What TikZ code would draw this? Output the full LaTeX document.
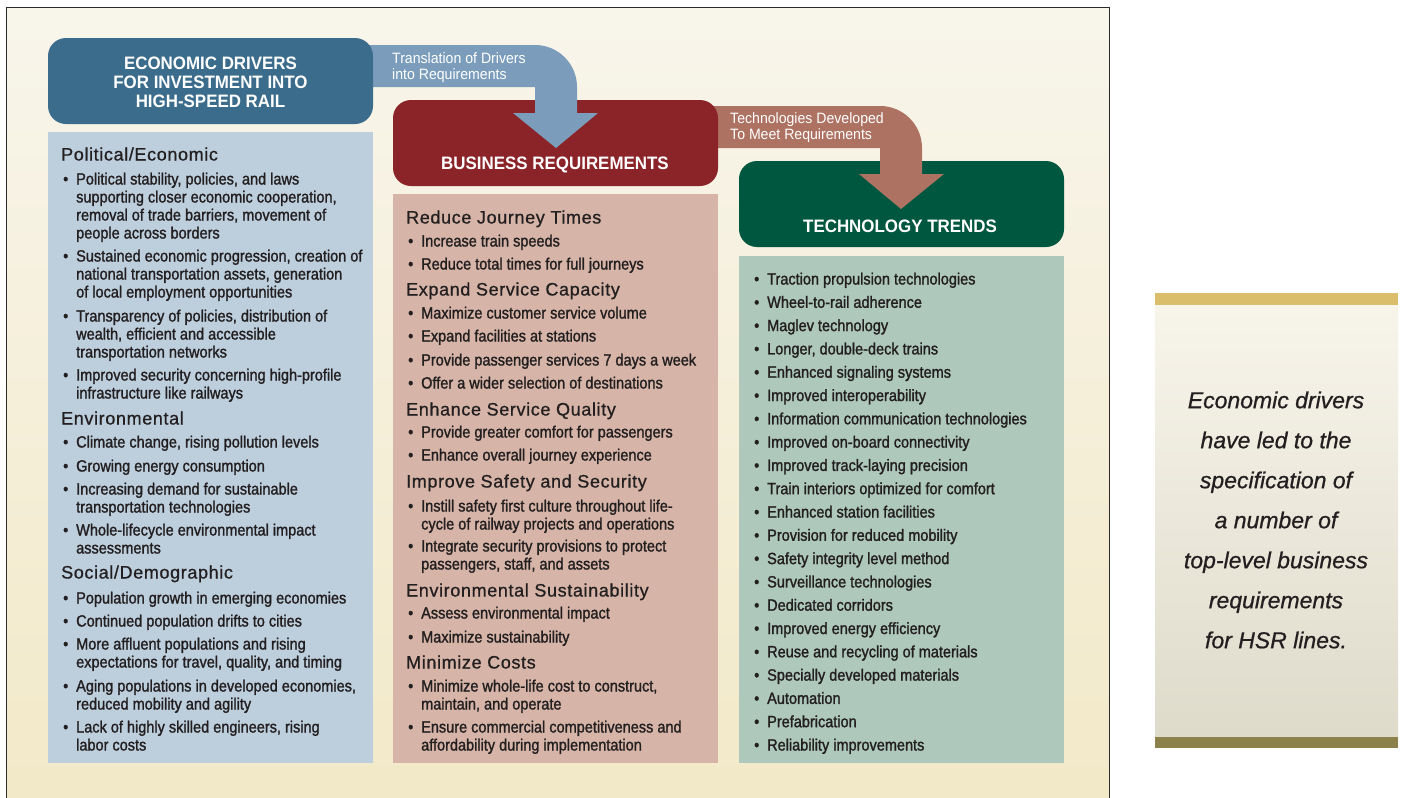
\documentclass[tikz,border=0pt]{standalone}
\usepackage{fontspec}
\setmainfont{Liberation Sans}
\newfontfamily\bodyfont[FakeStretch=0.89,FakeBold=1.4]{Liberation Sans}
\newfontfamily\groupfont[LetterSpace=3.5,FakeBold=0.8]{Liberation Sans}
\newfontfamily\notefont[FakeBold=0.8]{Liberation Sans}
\newfontfamily\titlefont[FakeStretch=0.94]{Liberation Sans}

\definecolor{ink}{HTML}{231F20}
\definecolor{frame}{HTML}{2B2B2B}
\definecolor{bgTop}{HTML}{F8F5EB}
\definecolor{bgBot}{HTML}{F2E9C8}
\definecolor{drvHead}{HTML}{3B6C8C}
\definecolor{drvArrow}{HTML}{7B9DBB}
\definecolor{drvPanel}{HTML}{BDCEDD}
\definecolor{busHead}{HTML}{8A2429}
\definecolor{busArrow}{HTML}{AD7262}
\definecolor{busPanel}{HTML}{D6B5A8}
\definecolor{tecHead}{HTML}{00573F}
\definecolor{tecPanel}{HTML}{AEC8BB}
\definecolor{sideGold}{HTML}{DABE6B}
\definecolor{sideOlive}{HTML}{8C814B}
\definecolor{sideTop}{HTML}{F7F4EA}
\definecolor{sideBot}{HTML}{DFDBCB}

\begin{document}
\begin{tikzpicture}[x=1pt,y=-1pt,
  header/.style={rounded corners=18pt, minimum width=325pt, minimum height=86pt, inner sep=0pt},
  panel/.style={minimum width=325pt, inner sep=0pt},
  headtext/.style={text=white, font=\titlefont\fontsize{18}{19}\selectfont\bfseries, align=center, inner sep=0pt},
  arrowtext/.style={text=white, font=\titlefont\fontsize{15}{15.5}\selectfont, align=left, inner sep=0pt, anchor=north west},
  lnh/.style={font=\groupfont\fontsize{18}{20}\selectfont, text=ink, anchor=base west, inner sep=0pt, yshift=-6.5pt},
  lnb/.style={font=\bodyfont\fontsize{16.3}{18}\selectfont, text=ink, anchor=base west, inner sep=0pt, yshift=-5.5pt,
              execute at begin node={\makebox[15pt][l]{\hspace{2pt}•}}},
  lnc/.style={font=\bodyfont\fontsize{16.3}{18}\selectfont, text=ink, anchor=base west, inner sep=0pt, yshift=-5.5pt,
              execute at begin node={\hspace*{15pt}}},
  note/.style={font=\notefont\itshape\fontsize{23}{40}\selectfont, text=ink, align=center, inner sep=0pt}
]
\useasboundingbox (0,0) rectangle (1401,798);
\fill[white] (0,0) rectangle (1401,798);

% main board with a soft cream gradient, open at the bottom
\shade[top color=bgTop, bottom color=bgBot] (6,7) rectangle (1109,798);
\draw[frame, line width=1pt] (6,798) -- (6,7) -- (1109,7) -- (1109,798);

% column bodies
\node[panel, fill=drvPanel, minimum height=631pt] (drvpanel) at (210.5,447.5) {};
\node[panel, fill=busPanel, minimum height=569pt] (buspanel) at (555.5,478.5) {};
\node[panel, fill=tecPanel, minimum height=507pt] (tecpanel) at (901.5,509.5) {};

% header boxes, drawn so that each bent arrow sits between them correctly
\node[header, fill=tecHead] (techead) at (901.5,204) {};

% bent arrow: business requirements -> technology trends
\fill[busArrow] (705,106) -- (880,106) arc[start angle=-90, end angle=0, radius=42]
  -- (922,174) -- (944,174) -- (901,209) -- (859,174) -- (880,174) -- (880,148) -- (705,148) -- cycle;

\node[header, fill=busHead] (bushead) at (555.5,143) {};

% bent arrow: economic drivers -> business requirements
\fill[drvArrow] (360,45) -- (535,45) arc[start angle=-90, end angle=0, radius=42]
  -- (577,113) -- (598,113) -- (556,148) -- (513,113) -- (535,113) -- (535,87) -- (360,87) -- cycle;

\node[header, fill=drvHead] (drvhead) at (210.5,81) {};

% header titles
\node[headtext] (drvtitle) at (210.5,82) {ECONOMIC DRIVERS\\FOR INVESTMENT INTO\\HIGH-SPEED RAIL};
\node[headtext] (bustitle) at (555,165) {BUSINESS REQUIREMENTS};
\node[headtext] (tectitle) at (900,226) {TECHNOLOGY TRENDS};

% arrow captions
\node[arrowtext] (drvcap) at (392,52.5) {Translation of Drivers\\into Requirements};
\node[arrowtext] (buscap) at (730,112.5) {Technologies Developed\\To Meet Requirements};

% economic drivers
\foreach \k/\y/\t [count=\i] in {
  h/154/{Political/Economic},
  b/179/{Political stability, policies, and laws},
  c/197/{supporting closer economic cooperation,},
  c/215/{removal of trade barriers, movement of},
  c/233/{people across borders},
  b/256/{Sustained economic progression, creation of},
  c/274/{national transportation assets, generation},
  c/292/{of local employment opportunities},
  b/316/{Transparency of policies, distribution of},
  c/334/{wealth, efficient and accessible},
  c/352/{transportation networks},
  b/375/{Improved security concerning high-profile},
  c/393/{infrastructure like railways},
  h/418/{Environmental},
  b/442/{Climate change, rising pollution levels},
  b/466/{Growing energy consumption},
  b/489/{Increasing demand for sustainable},
  c/507/{transportation technologies},
  b/530/{Whole-lifecycle environmental impact},
  c/548/{assessments},
  h/572/{Social/Demographic},
  b/598/{Population growth in emerging economies},
  b/621/{Continued population drifts to cities},
  b/644/{More affluent populations and rising},
  c/662/{expectations for travel, quality, and timing},
  b/686/{Aging populations in developed economies,},
  c/704/{reduced mobility and agility},
  b/727/{Lack of highly skilled engineers, rising},
  c/745/{labor costs}}
  \node[ln\k] (drv\i) at (61,\y) {\t};

% business requirements
\foreach \k/\y/\t [count=\i] in {
  h/217/{Reduce Journey Times},
  b/241/{Increase train speeds},
  b/264/{Reduce total times for full journeys},
  h/289/{Expand Service Capacity},
  b/313/{Maximize customer service volume},
  b/336/{Expand facilities at stations},
  b/360/{Provide passenger services 7 days a week},
  b/383/{Offer a wider selection of destinations},
  h/409/{Enhance Service Quality},
  b/432/{Provide greater comfort for passengers},
  b/455/{Enhance overall journey experience},
  h/481/{Improve Safety and Security},
  b/506/{Instill safety first culture throughout life-},
  c/524/{cycle of railway projects and operations},
  b/546/{Integrate security provisions to protect},
  c/564/{passengers, staff, and assets},
  h/590/{Environmental Sustainability},
  b/613/{Assess environmental impact},
  b/637/{Maximize sustainability},
  h/662/{Minimize Costs},
  b/686/{Minimize whole-life cost to construct,},
  c/704/{maintain, and operate},
  b/727/{Ensure commercial competitiveness and},
  c/745/{affordability during implementation}}
  \node[ln\k] (bus\i) at (406,\y) {\t};

% technology trends
\foreach \t [count=\i] in {
  Traction propulsion technologies,
  Wheel-to-rail adherence,
  Maglev technology,
  {Longer, double-deck trains},
  Enhanced signaling systems,
  Improved interoperability,
  Information communication technologies,
  Improved on-board connectivity,
  Improved track-laying precision,
  Train interiors optimized for comfort,
  Enhanced station facilities,
  Provision for reduced mobility,
  Safety integrity level method,
  Surveillance technologies,
  Dedicated corridors,
  Improved energy efficiency,
  Reuse and recycling of materials,
  Specially developed materials,
  Automation,
  Prefabrication,
  Reliability improvements}
  \node[lnb] (tec\i) at (752,{279+23.3*(\i-1)}) {\t};

% side note
\fill[sideGold] (1155,293) rectangle (1398,305);
\shade[top color=sideTop, bottom color=sideBot] (1155,305) rectangle (1398,737);
\fill[sideOlive] (1155,737) rectangle (1398,748);
\node[note] (sidenote) at (1276,520) {Economic drivers\\have led to the\\specification of\\a number of\\top-level business\\requirements\\for HSR lines.};
\end{tikzpicture}
\end{document}
